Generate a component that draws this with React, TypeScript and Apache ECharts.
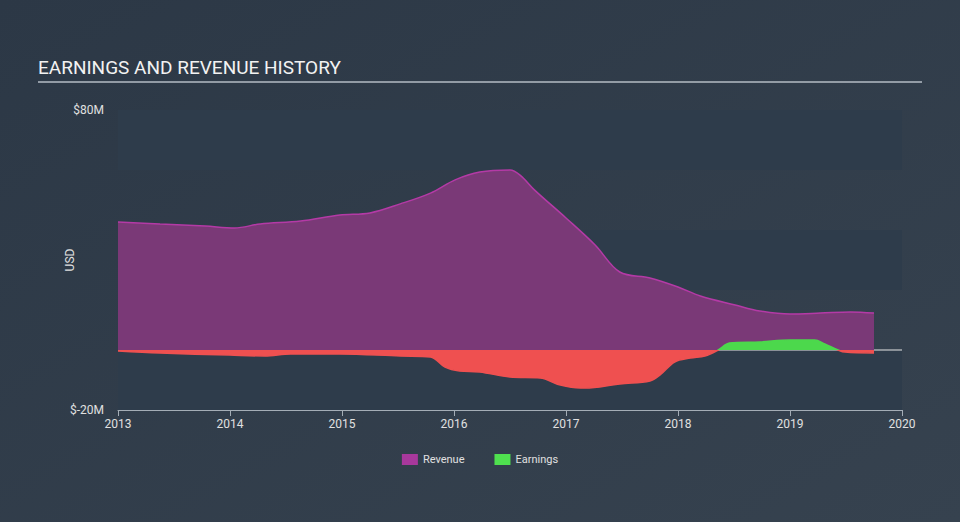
import React, { useEffect, useRef } from "react";
import * as echarts from "echarts";

const revenueYears = [2013.0, 2013.375, 2013.78, 2014.04, 2014.27, 2014.63, 2014.98, 2015.25, 2015.52, 2015.79, 2016.01, 2016.23, 2016.5, 2016.59, 2016.72, 2017.0, 2017.26, 2017.48, 2017.75, 2018.0, 2018.2, 2018.51, 2018.73, 2019.0, 2019.27, 2019.54, 2019.75];
const revenueValues = [42.7, 42, 41.3, 40.7, 42, 43, 45, 45.7, 48.7, 52.3, 56.7, 59.3, 60, 58.3, 53.3, 44, 35, 26, 24, 21, 18, 15, 13, 12, 12.3, 12.7, 12.3];

const earningsYears = [2013.0, 2013.375, 2014.0, 2014.31, 2014.54, 2014.98, 2015.52, 2015.79, 2015.92, 2016.05, 2016.23, 2016.5, 2016.77, 2016.95, 2017.13, 2017.3, 2017.48, 2017.75, 2017.84, 2017.97, 2018.11, 2018.24, 2018.36, 2018.46, 2018.73, 2019.0, 2019.22, 2019.31, 2019.43, 2019.49, 2019.75];
const earningsValues = [-0.3, -1, -1.7, -2, -1.3, -1.3, -2, -2.3, -5.7, -7, -7.3, -9, -9.3, -11.7, -12.7, -12.3, -11.3, -10.3, -8.3, -4, -2.7, -2, 0, 2.3, 2.7, 3.3, 3.3, 2, 0, -0.7, -1];

const yTickLabels: Record<number, string> = { 80: "$80M", [-20]: "$-20M" };

export default function App() {
  const ref = useRef<HTMLDivElement>(null);
  useEffect(() => {
    if (!ref.current) return;
    const chart = echarts.init(ref.current, null, { renderer: "svg" });
    const font = "Roboto, 'Noto Sans', sans-serif";
    chart.setOption({
      animation: false,
      backgroundColor: new echarts.graphic.LinearGradient(0, 0, 1, 1, [
        { offset: 0, color: "#2c3846" },
        { offset: 1, color: "#36424f" },
      ]),
      textStyle: { fontFamily: font },
      graphic: [
        {
          type: "text",
          left: 38,
          top: 58,
          style: { text: "EARNINGS AND REVENUE HISTORY", fill: "#f2f2f2", fontSize: 19, fontFamily: font },
        },
        {
          type: "line",
          shape: { x1: 38, y1: 82, x2: 922, y2: 82 },
          style: { stroke: "#b5bcc4", lineWidth: 1.5 },
        },
      ],
      legend: {
        bottom: 52,
        left: "center",
        itemWidth: 16,
        itemHeight: 11,
        itemGap: 30,
        icon: "rect",
        textStyle: { color: "#e0e0e0", fontSize: 11, fontFamily: font },
        data: [
          { name: "Revenue", itemStyle: { color: "#a8389c" } },
          { name: "Earnings", itemStyle: { color: "#4fe04f" } },
        ],
      },
      grid: { left: 118, right: 58, top: 110, bottom: 112 },
      xAxis: {
        type: "value",
        min: 2013,
        max: 2020,
        interval: 1,
        axisLine: { show: true, lineStyle: { color: "#a4adb6" }, onZero: false },
        axisTick: { show: true, length: 6, lineStyle: { color: "#a4adb6" } },
        axisLabel: { color: "#e0e0e0", fontSize: 12, margin: 8, formatter: (v: number) => String(v) },
        splitLine: { show: false },
      },
      yAxis: {
        type: "value",
        min: -20,
        max: 80,
        interval: 20,
        name: "USD",
        nameLocation: "middle",
        nameGap: 42,
        nameMoveOverlap: false,
        nameTextStyle: { color: "#e0e0e0", fontSize: 12 },
        axisLine: { show: false },
        axisTick: { show: false },
        axisLabel: {
          color: "#e0e0e0",
          fontSize: 12,
          margin: 14,
          formatter: (v: number) => yTickLabels[v] ?? "",
        },
        splitLine: { show: false },
        splitArea: { show: true, areaStyle: { color: ["#2e3c4b", "rgba(0,0,0,0)"] } },
      },
      visualMap: {
        show: false,
        type: "piecewise",
        seriesIndex: 1,
        dimension: 1,
        pieces: [
          { gte: -100, lt: 0, color: "#ef5050" },
          { gte: 0, lte: 100, color: "#4cd84c" },
        ],
      },
      series: [
        {
          name: "Revenue",
          type: "line",
          smooth: 0.35,
          showSymbol: false,
          data: revenueYears.map((y, i) => [y, revenueValues[i]]),
          lineStyle: { color: "#b43aa6", width: 1.5 },
          itemStyle: { color: "#a8389c" },
          areaStyle: { color: "#7a3977", opacity: 1 },
          z: 2,
        },
        {
          name: "Earnings",
          type: "line",
          smooth: 0.35,
          showSymbol: false,
          data: earningsYears.map((y, i) => [y, earningsValues[i]]),
          lineStyle: { width: 1.5 },
          itemStyle: { color: "#4fe04f" },
          areaStyle: { opacity: 1 },
          z: 3,
        },
        {
          name: "zero",
          type: "line",
          showSymbol: false,
          silent: true,
          data: [[2013, 0], [2020, 0]],
          lineStyle: { color: "#e6e6e6", width: 1 },
          z: 1,
        },
      ],
    });
    return () => chart.dispose();
  }, []);
  return <div ref={ref} style={{ position: "absolute", left: 0, top: 0, width: 960, height: 522 }} />;
}
